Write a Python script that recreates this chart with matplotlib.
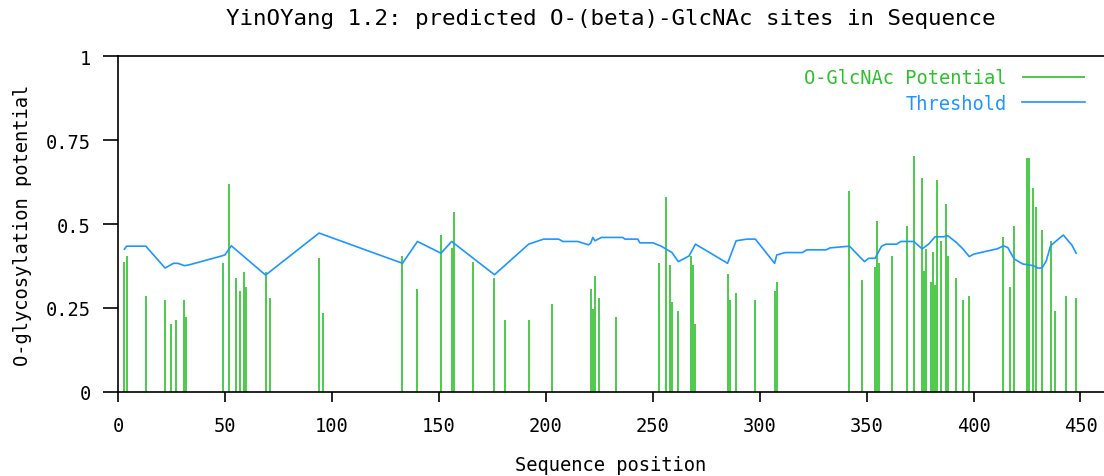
"""YinOYang O-GlcNAc prediction plot."""

from __future__ import annotations

from pathlib import Path

import matplotlib

matplotlib.use("Agg")
import matplotlib.pyplot as plt
import numpy as np

GREEN = "#2ec12e"
BLUE = "#1e96ff"

# predicted O-GlcNAc potential per site (sequence position, score)
site_positions = [
    3, 4, 13, 22, 25, 27, 31, 32, 49, 52, 55, 57, 59, 60, 69, 71, 94, 96,
    133, 140, 151, 156, 157, 166, 176, 181, 192, 203,
    221, 222, 223, 225, 233, 253, 256, 258, 259, 262, 268, 269, 270,
    285, 286, 289, 298, 307, 308,
    342, 348, 354, 355, 356, 362, 369, 372, 376, 377, 378, 380, 381, 382,
    383, 385, 387, 388, 392, 395, 398,
    414, 417, 419, 425, 426, 428, 429, 432, 436, 438, 443, 448,
]
site_potential = [
    0.386, 0.404, 0.287, 0.274, 0.202, 0.215, 0.274, 0.222, 0.384, 0.619,
    0.339, 0.300, 0.358, 0.313, 0.358, 0.281, 0.398, 0.236,
    0.404, 0.307, 0.468, 0.429, 0.535, 0.386, 0.339, 0.215, 0.215, 0.261,
    0.307, 0.247, 0.345, 0.281, 0.222, 0.385, 0.579, 0.378, 0.268, 0.242,
    0.404, 0.378, 0.203,
    0.352, 0.274, 0.294, 0.274, 0.300, 0.326,
    0.599, 0.332, 0.371, 0.508, 0.384, 0.404, 0.495, 0.703, 0.638, 0.359,
    0.426, 0.326, 0.416, 0.319, 0.632, 0.450, 0.560, 0.404, 0.339, 0.274,
    0.287,
    0.462, 0.313, 0.495, 0.696, 0.696, 0.606, 0.551, 0.482, 0.448, 0.242,
    0.287, 0.280,
]

# threshold curve (sequence position, threshold)
threshold_positions = [
    3, 4, 13, 22, 26, 28, 31, 33, 48, 50, 53, 69, 94, 133, 140, 151, 156,
    176, 192, 199, 206, 208, 215, 220, 221, 222, 223, 226, 236, 237, 243,
    244, 250, 254, 259, 262, 267, 270, 285, 289, 294, 298, 303, 307, 308,
    312, 320, 322, 331, 333, 342, 349, 351, 354, 357, 359, 364, 366, 372,
    376, 379, 382, 386, 388, 392, 395, 398, 400, 406, 411, 414, 416, 419,
    423, 428, 430, 432, 434, 436, 440, 442, 446, 448,
]
threshold_values = [
    0.425, 0.434, 0.434, 0.369, 0.383, 0.383, 0.376, 0.378, 0.404, 0.408,
    0.435, 0.348, 0.473, 0.383, 0.448, 0.413, 0.448, 0.349, 0.440, 0.455,
    0.455, 0.448, 0.448, 0.438, 0.443, 0.460, 0.450, 0.460, 0.460, 0.455,
    0.455, 0.444, 0.444, 0.434, 0.415, 0.388, 0.405, 0.440, 0.383, 0.450,
    0.455, 0.455, 0.415, 0.383, 0.408, 0.415, 0.415, 0.423, 0.423, 0.429,
    0.434, 0.388, 0.398, 0.398, 0.434, 0.440, 0.440, 0.448, 0.448, 0.426,
    0.440, 0.462, 0.462, 0.465, 0.445, 0.426, 0.403, 0.410, 0.419, 0.426,
    0.435, 0.430, 0.396, 0.381, 0.376, 0.369, 0.369, 0.390, 0.435, 0.457,
    0.467, 0.437, 0.413,
]

x_ticks = [0, 50, 100, 150, 200, 250, 300, 350, 400, 450]
y_ticks = [0, 0.25, 0.5, 0.75, 1]
y_tick_labels = ["0", "0.25", "0.5", "0.75", "1"]


def save_yinoyang_plot(path: str | Path) -> None:
    path = Path(path)
    plt.rcParams["font.family"] = ["DejaVu Sans Mono"]
    plt.rcParams["font.size"] = 13.5

    fig = plt.figure(figsize=(11.04, 4.77), dpi=100)
    ax = fig.add_axes([118 / 1104, 1 - 393 / 477, 986 / 1104, 336 / 477])

    ax.vlines(site_positions, 0, site_potential, color=GREEN, lw=1.2, label="O-GlcNAc Potential")
    ax.plot(threshold_positions, threshold_values, color=BLUE, lw=1.2, label="Threshold")

    ax.set_xlim(0, 461)
    ax.set_ylim(0, 1)
    ax.set_xticks(x_ticks)
    ax.set_yticks(y_ticks)
    ax.set_yticklabels(y_tick_labels)
    ax.tick_params(axis="x", direction="out", length=7, width=1.2, pad=10)
    ax.tick_params(axis="y", direction="out", length=10.5, width=1.2, pad=9)
    ax.spines["right"].set_visible(False)
    for side in ("left", "bottom", "top"):
        ax.spines[side].set_linewidth(1.2)

    ax.set_title("YinOYang 1.2: predicted O-(beta)-GlcNAc sites in Sequence", pad=23)
    ax.set_xlabel("Sequence position", labelpad=15)
    ax.set_ylabel("O-glycosylation potential", labelpad=10)

    ax.legend(
        loc="upper right",
        bbox_to_anchor=(0.981, 0.963),
        frameon=False,
        markerfirst=False,
        labelcolor=[GREEN, BLUE],
        borderpad=0,
        borderaxespad=0,
        handlelength=3.4,
        handletextpad=0.8,
        labelspacing=0.35,
    )

    fig.savefig(path, dpi=100)
    plt.close(fig)


if __name__ == "__main__":
    save_yinoyang_plot("out.png")
